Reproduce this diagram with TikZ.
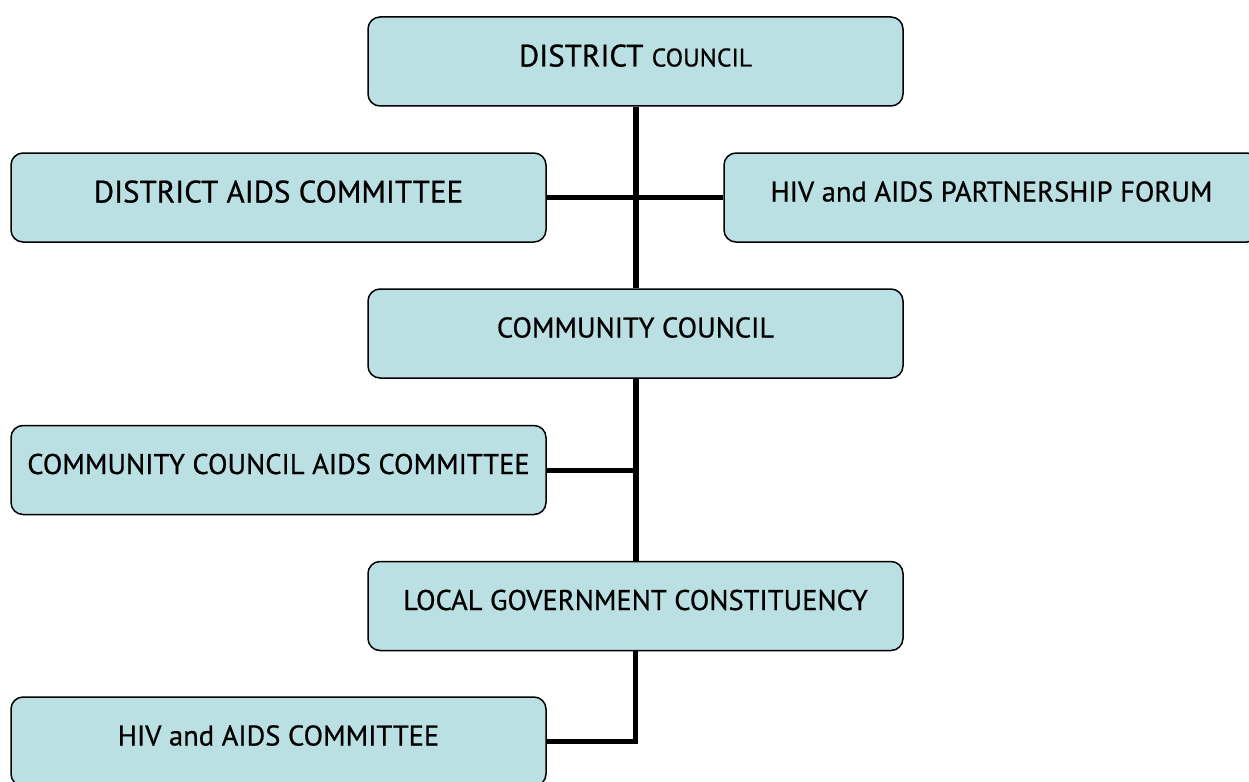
\documentclass[tikz,border=0pt]{standalone}
\usepackage{fontspec}
\setmainfont{PT Sans}[FakeBold=0.7]
\usepackage{xcolor}
\usepackage{tikz}
\usetikzlibrary{calc}
\usetikzlibrary{positioning}
\definecolor{boxfill}{RGB}{187,224,227}
\tikzstyle{orgnode}=[black, draw=black, line width=1.5pt, shape=rectangle, rounded corners=12pt, fill=boxfill, minimum width=535pt, minimum height=89pt, inner sep=0pt, text height=20pt, text depth=12pt, font=\fontsize{28.5}{32}\selectfont]
\tikzstyle{bignode}=[orgnode, text height=22pt, text depth=12pt, font=\fontsize{31}{35}\selectfont]

\begin{document}
\begin{tikzpicture}[x=1pt, y=-1pt]
\useasboundingbox (0,0) rectangle (1249,781);
\node [bignode] (distcouncil) at (635.5,61.5) {DISTRICT {\fontsize{25.5}{29}\selectfont COUNCIL}};
\node [bignode] (distaids) at (278.5,197.5) {DISTRICT AIDS COMMITTEE};
\node [orgnode] (forum) at (991.5,197.5) {HIV and AIDS PARTNERSHIP FORUM};
\node [orgnode] (commcouncil) at (635.5,333.5) {COMMUNITY COUNCIL};
\node [orgnode] (commaids) at (278.5,470) {COMMUNITY COUNCIL AIDS COMMITTEE};
\node [orgnode] (localgov) at (635.5,606) {LOCAL GOVERNMENT CONSTITUENCY};
\node [orgnode] (hivaids) at (278.5,741.5) {HIV and AIDS COMMITTEE};

\draw[line width=6pt, color=black] (distcouncil) -- (commcouncil);
\draw[line width=5pt, color=black] (distaids) -- (forum);
\draw[line width=6pt, color=black] (commcouncil) -- (localgov);
\draw[line width=5pt, color=black] (commaids.east) -- (commaids.east -| localgov.north);
\draw[line width=5pt, color=black] (localgov.south) |- (hivaids.east);
\end{tikzpicture}
\end{document}
